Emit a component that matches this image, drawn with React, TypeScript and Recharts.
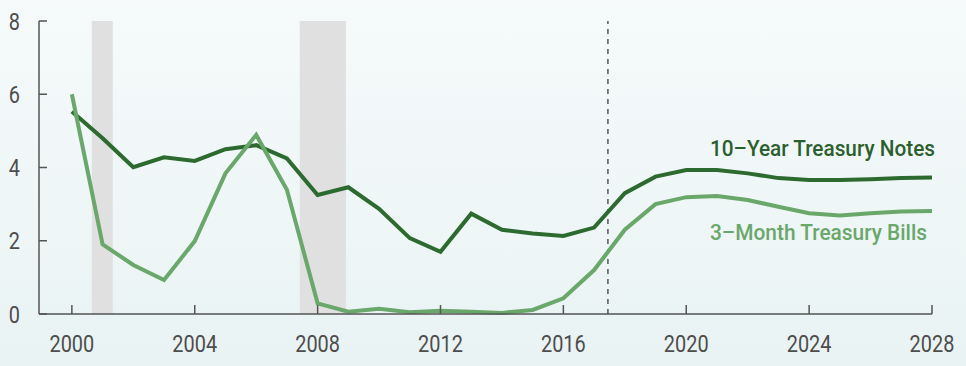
import {
  LineChart,
  Line,
  XAxis,
  YAxis,
  ReferenceArea,
  ReferenceLine,
} from "recharts";

const years = [
  2000, 2001, 2002, 2003, 2004, 2005, 2006, 2007, 2008, 2009, 2010, 2011, 2012,
  2013, 2014, 2015, 2016, 2017, 2018, 2019, 2020, 2021, 2022, 2023, 2024, 2025,
  2026, 2027, 2028,
];
const treasuryNotes = [
  5.53, 4.8, 4.01, 4.28, 4.18, 4.5, 4.61, 4.25, 3.25, 3.46, 2.87, 2.07, 1.7,
  2.74, 2.3, 2.2, 2.13, 2.36, 3.3, 3.75, 3.93, 3.93, 3.84, 3.71, 3.66, 3.66,
  3.68, 3.71, 3.73,
];
const treasuryBills = [
  6.0, 1.9, 1.34, 0.93, 1.99, 3.84, 4.89, 3.39, 0.29, 0.06, 0.14, 0.05, 0.09,
  0.06, 0.03, 0.11, 0.43, 1.2, 2.3, 3.0, 3.19, 3.22, 3.11, 2.93, 2.75, 2.69,
  2.75, 2.8, 2.81,
];
const recessions = [
  [2000.65, 2001.33],
  [2007.42, 2008.92],
];
const projectionStart = 2017.45;
const xTicks = [2000, 2004, 2008, 2012, 2016, 2020, 2024, 2028];
const yTicks = [0, 2, 4, 6, 8];

const data = years.map((year, i) => ({
  year,
  notes: treasuryNotes[i],
  bills: treasuryBills[i],
}));

const AXIS = "#555";
const DARK = "#2d6a30";
const LIGHT = "#6aa76b";
const FONT = "Roboto, 'Noto Sans', sans-serif";

const XTick = (props: any) => {
  const { x, y, payload } = props;
  return (
    <g>
      <line x1={x} y1={y} x2={x} y2={y - 9} stroke={AXIS} strokeWidth={1.5} />
      <text
        transform={`translate(${x},${y + 38}) scale(0.83,1)`}
        textAnchor="middle"
        fill="#4d4d4d"
        fontSize={24}
        fontFamily={FONT}
      >
        {payload.value}
      </text>
    </g>
  );
};

const YTick = (props: any) => {
  const { x, y, payload } = props;
  return (
    <g>
      <line x1={x} y1={y} x2={x + 8} y2={y} stroke={AXIS} strokeWidth={1.5} />
      <text
        transform={`translate(20,${y + 8.5}) scale(0.83,1)`}
        textAnchor="end"
        fill="#4d4d4d"
        fontSize={24}
        fontFamily={FONT}
      >
        {payload.value}
      </text>
    </g>
  );
};

export default function App() {
  return (
    <div
      style={{
        position: "relative",
        width: 966,
        height: 366,
        background: "linear-gradient(180deg, #f6fafb 0%, #e9f3f3 100%)",
      }}
    >
      <style>{`body{margin:0}`}</style>
      <LineChart
        width={966}
        height={366}
        data={data}
        margin={{ top: 21, right: 34, left: 0, bottom: 0 }}
      >
        {recessions.map(([a, b], i) => (
          <ReferenceArea
            key={i}
            x1={a}
            x2={b}
            y1={0}
            y2={8}
            fill="#e0e0e0"
            fillOpacity={1}
            stroke="none"
          />
        ))}
        <XAxis
          dataKey="year"
          type="number"
          domain={[1998.93, 2028]}
          allowDataOverflow
          ticks={xTicks}
          height={52}
          tickSize={0}
          tickMargin={0}
          tickLine={false}
          axisLine={{ stroke: AXIS, strokeWidth: 1.5 }}
          tick={<XTick />}
          interval={0}
        />
        <YAxis
          type="number"
          domain={[0, 8]}
          ticks={yTicks}
          width={39}
          tickSize={0}
          tickMargin={0}
          tickLine={false}
          axisLine={{ stroke: AXIS, strokeWidth: 1.5 }}
          tick={<YTick />}
          interval={0}
        />
        <ReferenceLine
          x={projectionStart}
          stroke={AXIS}
          strokeWidth={1.5}
          strokeDasharray="5 5"
        />
        <Line
          dataKey="notes"
          type="linear"
          stroke={DARK}
          strokeWidth={4}
          dot={false}
          isAnimationActive={false}
        />
        <Line
          dataKey="bills"
          type="linear"
          stroke={LIGHT}
          strokeWidth={4}
          dot={false}
          isAnimationActive={false}
        />
      </LineChart>
      <svg
        width={966}
        height={366}
        style={{ position: "absolute", left: 0, top: 0, pointerEvents: "none" }}
      >
        <text
          x={710}
          y={156}
          fontSize={22}
          fontWeight={500}
          fontFamily={FONT}
          fill="#2c5f2e"
          textLength={225}
          lengthAdjust="spacingAndGlyphs"
        >
          10–Year Treasury Notes
        </text>
        <text
          x={710}
          y={240}
          fontSize={22}
          fontWeight={500}
          fontFamily={FONT}
          fill={LIGHT}
          textLength={217}
          lengthAdjust="spacingAndGlyphs"
        >
          3–Month Treasury Bills
        </text>
      </svg>
    </div>
  );
}
